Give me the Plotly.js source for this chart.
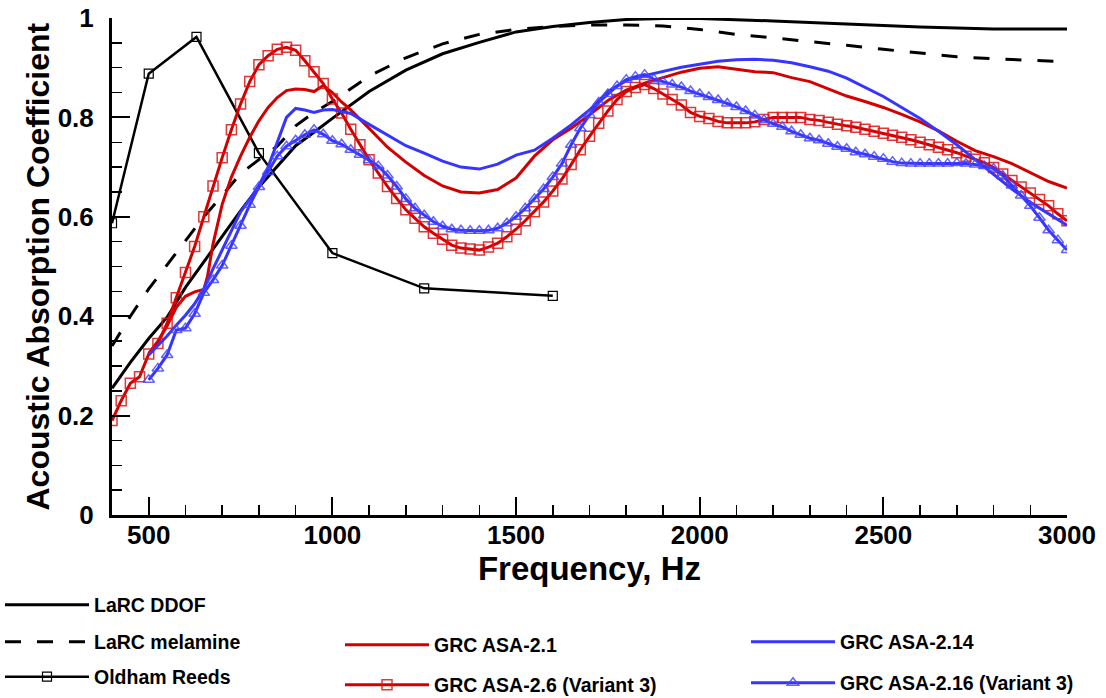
<!DOCTYPE html>
<html>
<head>
<meta charset="utf-8">
<script src="https://cdn.plot.ly/plotly-3.0.1.min.js"></script>
<style>html,body{margin:0;padding:0;background:#fff;}#chart{width:1106px;height:698px;}</style>
</head>
<body>
<div id="chart"></div>
<script>
// ---------- data ----------
const freq25 = [
  400,425,450,475,500,525,550,575,
  600,625,650,675,700,725,750,775,
  800,825,850,875,900,925,950,975,
  1000,1025,1050,1075,1100,1125,1150,1175,
  1200,1225,1250,1275,1300,1325,1350,1375,
  1400,1425,1450,1475,1500,1525,1550,1575,
  1600,1625,1650,1675,1700,1725,1750,1775,
  1800,1825,1850,1875,1900,1925,1950,1975,
  2000,2025,2050,2075,2100,2125,2150,2175,
  2200,2225,2250,2275,2300,2325,2350,2375,
  2400,2425,2450,2475,2500,2525,2550,2575,
  2600,2625,2650,2675,2700,2725,2750,2775,
  2800,2825,2850,2875,2900,2925,2950,2975,
  3000
];

const ddofFreq = [400,450,500,550,600,650,700,750,800,850,900,950,1000,1100,1200,1300,1400,1500,1600,1700,1800,1900,2000,2200,2400,2600,2800,3000];
const ddofAbs  = [0.255,0.307,0.355,0.398,0.458,0.510,0.562,0.612,0.660,0.702,0.743,0.770,0.798,0.852,0.895,0.928,0.951,0.972,0.983,0.991,0.997,0.999,0.999,0.994,0.988,0.982,0.978,0.978];

const melFreq = [400,450,500,550,600,650,700,750,800,850,900,950,1000,1100,1200,1300,1400,1500,1600,1700,1800,1900,2000,2100,2200,2300,2400,2500,2600,2700,2800,2900,3000];
const melAbs  = [0.340,0.400,0.455,0.503,0.553,0.600,0.643,0.687,0.715,0.742,0.783,0.810,0.832,0.883,0.920,0.948,0.967,0.977,0.983,0.986,0.986,0.984,0.977,0.967,0.960,0.953,0.945,0.937,0.929,0.922,0.918,0.915,0.912];

const oldhamFreq = [400,500,630,800,1000,1250,1600];
const oldhamAbs  = [0.587,0.888,0.962,0.728,0.527,0.456,0.441];

const asa21Freq = [500,525,550,575,600,625,650,660,675,
  700,725,750,775,800,825,850,875,900,925,950,975,1000,1025,1050,
  1100,1150,1200,1250,1300,1350,1400,1450,1500,1550,1600,1650,1700,1750,1800,1850,
  1900,1950,2000,2050,2100,2150,2200,2250,2300,2350,2400,2450,2500,2550,2600,2650,
  2700,2750,2800,2850,2900,2950,3000];
const asa21Abs = [0.325,0.350,0.380,0.418,0.440,0.449,0.454,0.480,0.545,
  0.625,0.680,0.722,0.760,0.793,0.820,0.840,0.854,0.857,0.856,0.852,0.864,0.850,0.831,0.815,
  0.778,0.740,0.710,0.683,0.662,0.650,0.648,0.655,0.678,0.722,0.755,0.778,0.805,0.834,0.855,0.869,
  0.880,0.891,0.899,0.902,0.897,0.892,0.890,0.880,0.872,0.858,0.843,0.832,0.820,0.806,0.791,0.773,
  0.752,0.733,0.721,0.707,0.689,0.671,0.658];

const asa26Abs = [
  0.190,0.230,0.265,0.278,0.324,0.345,0.386,0.437,
  0.488,0.540,0.600,0.662,0.719,0.775,0.827,0.872,
  0.906,0.924,0.937,0.941,0.935,0.914,0.892,0.868,
  0.837,0.809,0.776,0.745,0.715,0.688,0.661,0.637,
  0.614,0.597,0.580,0.567,0.555,0.543,0.537,0.535,
  0.533,0.539,0.547,0.560,0.575,0.592,0.610,0.630,
  0.652,0.676,0.705,0.735,0.762,0.788,0.813,0.836,
  0.852,0.860,0.866,0.858,0.847,0.836,0.825,0.810,
  0.802,0.798,0.792,0.789,0.789,0.789,0.791,0.796,
  0.800,0.800,0.800,0.800,0.796,0.794,0.790,0.786,
  0.783,0.780,0.776,0.772,0.768,0.764,0.760,0.755,
  0.750,0.745,0.740,0.735,0.729,0.722,0.716,0.709,
  0.699,0.686,0.673,0.660,0.648,0.635,0.622,0.606,
  0.592
];

const asa214Freq = [500,525,550,575,600,625,650,675,700,725,750,775,800,825,850,875,900,925,950,975,1000,
  1050,1100,1150,1200,1250,1300,1350,1400,1450,1500,
  1550,1600,1650,1700,1750,1800,1850,1900,1950,2000,
  2050,2100,2150,2200,2250,2300,2350,2400,2450,2500,
  2550,2600,2650,2700,2750,2800,2850,2900,2950,3000];
const asa214Abs = [0.322,0.340,0.360,0.382,0.402,0.425,0.455,0.495,0.533,0.573,0.610,0.635,0.663,0.700,0.752,0.800,0.818,0.815,0.810,0.815,0.816,
  0.808,0.786,0.764,0.743,0.728,0.712,0.700,0.696,0.706,0.724,
  0.734,0.758,0.785,0.815,0.852,0.874,0.884,0.892,0.901,0.907,
  0.913,0.916,0.917,0.915,0.910,0.902,0.893,0.879,0.861,0.842,
  0.820,0.798,0.772,0.745,0.715,0.685,0.656,0.629,0.606,0.583];

const asa216Abs = [
                          0.272,0.295,0.322,0.372,
  0.376,0.405,0.447,0.473,0.502,0.542,0.582,0.624,
  0.660,0.690,0.722,0.742,0.754,0.765,0.775,0.766,
  0.753,0.746,0.735,0.725,0.714,0.702,0.683,0.661,
  0.636,0.617,0.603,0.590,0.581,0.575,0.573,0.572,
  0.572,0.573,0.577,0.587,0.600,0.617,0.636,0.656,
  0.680,0.707,0.745,0.778,0.805,0.830,0.847,0.863,
  0.876,0.882,0.886,0.877,0.872,0.866,0.861,0.853,
  0.847,0.841,0.835,0.828,0.821,0.813,0.804,0.795,
  0.787,0.781,0.772,0.765,0.758,0.754,0.747,0.741,
  0.737,0.730,0.726,0.721,0.717,0.711,0.708,0.707,
  0.707,0.707,0.707,0.707,0.708,0.707,0.705,0.702,
  0.697,0.683,0.663,0.643,0.622,0.598,0.573,0.553,
  0.533
];

const seriesNames = ['LaRC DDOF','LaRC melamine','Oldham Reeds','GRC ASA-2.1','GRC ASA-2.6 (Variant 3)','GRC ASA-2.14','GRC ASA-2.16 (Variant 3)'];
const xTitle = 'Frequency, Hz';
const yTitle = 'Acoustic Absorption Coefficient';

// ---------- styling ----------
const RED = '#d40000';
const BLUE = '#3535ff';
const BLACK = '#000000';
const FONT = 'Liberation Sans, Arial, Helvetica, sans-serif';

const traces = [
  {x: ddofFreq, y: ddofAbs, name: seriesNames[0], mode:'lines', legend:'legend',
   line:{color:BLACK, width:3}},
  {x: melFreq, y: melAbs, name: seriesNames[1], mode:'lines', legend:'legend2',
   line:{color:BLACK, width:3, dash:'16px,16px'}},
  {x: oldhamFreq, y: oldhamAbs, name: seriesNames[2], mode:'lines+markers', legend:'legend3',
   line:{color:BLACK, width:2.5},
   marker:{symbol:'square-open', size:9, color:BLACK, line:{width:1.2, color:BLACK}}},
  {x: asa21Freq, y: asa21Abs, name: seriesNames[3], mode:'lines', legend:'legend4',
   line:{color:RED, width:3}},
  {x: freq25, y: asa26Abs, name: seriesNames[4], mode:'lines+markers', legend:'legend5',
   line:{color:RED, width:3},
   marker:{symbol:'square-open', size:10, color:'rgba(220,20,20,0.85)', line:{width:1.5, color:'rgba(220,20,20,0.85)'}}},
  {x: asa214Freq, y: asa214Abs, name: seriesNames[5], mode:'lines', legend:'legend6',
   line:{color:BLUE, width:3}},
  {x: freq25.slice(4), y: asa216Abs, name: seriesNames[6], mode:'lines+markers', legend:'legend7',
   line:{color:BLUE, width:3},
   marker:{symbol:'triangle-up-open', size:10, color:'rgba(70,70,255,0.85)', line:{width:1.5, color:'rgba(70,70,255,0.85)'}}}
];

function legendAt(xpx, ypx) {
  return {
    x: xpx / 1106, y: 1 - ypx / 698, xref:'container', yref:'container',
    xanchor:'left', yanchor:'middle', orientation:'v',
    bgcolor:'rgba(0,0,0,0)', borderwidth:0, itemwidth:84,
    font:{family:FONT, size:19.5, weight:'bold', color:BLACK},
    itemclick:false, itemdoubleclick:false
  };
}

const axisCommon = {
  showline:true, linecolor:BLACK, linewidth:3, mirror:false,
  showgrid:false, zeroline:false,
  ticks:'inside', ticklen:18, tickwidth:2, tickcolor:BLACK,
  tickfont:{family:FONT, size:26, weight:'bold', color:BLACK}
};

const layout = {
  width:1106, height:698,
  paper_bgcolor:'#fff', plot_bgcolor:'#fff',
  margin:{l:112, r:39, t:18, b:183, autoexpand:false},
  showlegend:true,
  xaxis: Object.assign({}, axisCommon, {
    range:[400,3000], tick0:0, dtick:500,
    minor:{dtick:100, ticks:'inside', ticklen:10, tickwidth:1.5, tickcolor:BLACK, showgrid:false},
    ticklabelstandoff:-5,
    title:{text:xTitle, font:{family:FONT, size:33, weight:'bold', color:BLACK}, standoff:0}
  }),
  yaxis: Object.assign({}, axisCommon, {
    range:[0,1], tick0:0, dtick:0.2,
    minor:{dtick:0.05, ticks:'inside', ticklen:10, tickwidth:1.5, tickcolor:BLACK, showgrid:false},
    ticklabelstandoff:10
  }),
  annotations:[{
    text:yTitle, xref:'paper', yref:'paper', x:-0.0775, y:0.5,
    xanchor:'center', yanchor:'middle', textangle:-90, showarrow:false,
    font:{family:FONT, size:32, weight:'bold', color:BLACK}
  }],
  legend:  legendAt(0, 605),
  legend2: legendAt(0, 642),
  legend3: legendAt(0, 677),
  legend4: legendAt(340, 645),
  legend5: legendAt(340, 685),
  legend6: legendAt(746, 642),
  legend7: legendAt(746, 683)
};

Plotly.newPlot('chart', traces, layout, {displayModeBar:false, staticPlot:true});
</script>
</body>
</html>
